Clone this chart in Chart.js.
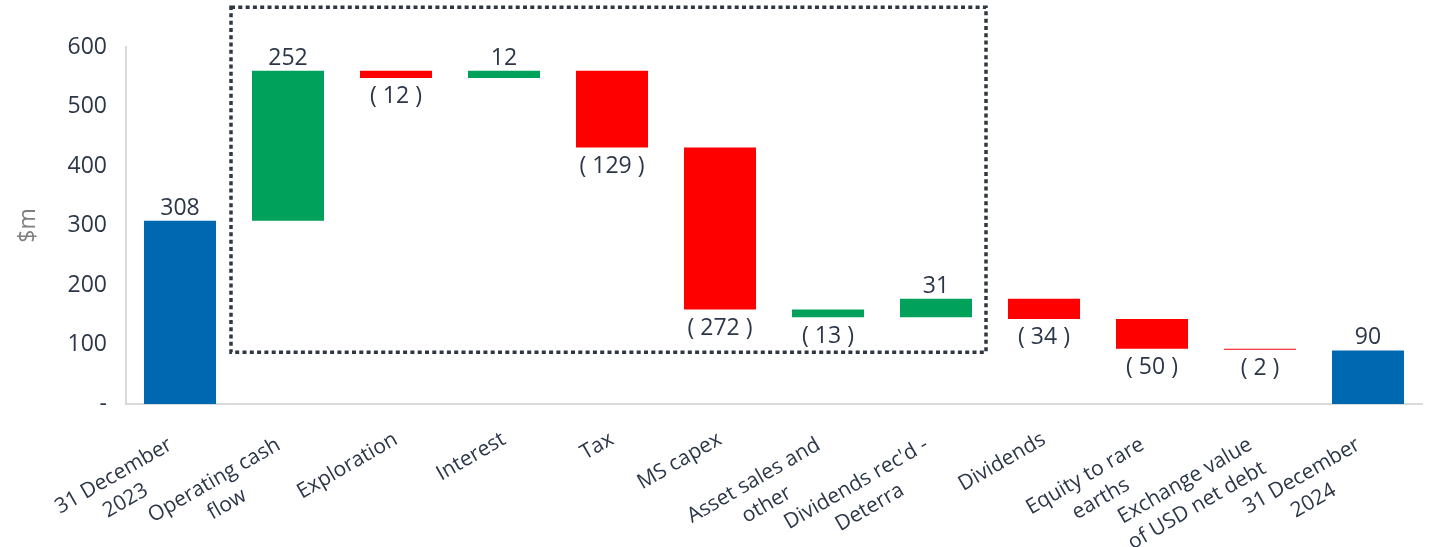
<!DOCTYPE html>
<html>
<head>
<meta charset="utf-8">
<script src="https://cdn.jsdelivr.net/npm/chart.js@4.4.1/dist/chart.umd.min.js"></script>
<style>
	html, body { margin: 0; padding: 0; background: #fff; }
	#wrap { width: 1430px; height: 547px; position: relative; }
</style>
</head>
<body>
<div id="wrap"><canvas id="myChart"></canvas></div>
<script>
// categories (multi-line where the chart wraps them)
var categories = [
	["31 December", "2023"],
	["Operating cash", "flow"],
	"Exploration",
	"Interest",
	"Tax",
	"MS capex",
	["Asset sales and", "other"],
	["Dividends rec'd -", "Deterra"],
	"Dividends",
	["Equity to rare", "earths"],
	["Exchange value", "of USD net debt"],
	["31 December", "2024"]
];
// movement of each step, $m (first and last are totals)
var changes = [308, 252, -12, 12, -129, -272, -13, 31, -34, -50, -2, 90];
var isTotal = [true, false, false, false, false, false, false, false, false, false, false, true];
var yTickValues = [0, 100, 200, 300, 400, 500, 600];

var BLUE = "#0067B1", GREEN = "#00A15B", RED = "#FF0000";
var barColors = [BLUE, GREEN, RED, GREEN, RED, RED, GREEN, GREEN, RED, RED, RED, BLUE];
var textColor = "#2B3748";
var FONT = "'Open Sans', 'Noto Sans', sans-serif";

// floating bars [from, to]
var bars = [];
var running = 0;
changes.forEach(function(v, i) {
	if (isTotal[i]) {
		bars.push([0, v]);
		running = v;
	} else {
		bars.push([running, running + v]);
		running += v;
	}
});

// pad lines so wrapped labels look centred like excel does it
// (chart.js right-aligns rotated text)
var mctx = document.createElement("canvas").getContext("2d");
mctx.font = "21px " + FONT;
function centreLines(lbl) {
	if (!Array.isArray(lbl)) return lbl;
	var widths = lbl.map(function(s) { return mctx.measureText(s).width; });
	var max = Math.max.apply(null, widths);
	var sp = mctx.measureText(" ").width;
	return lbl.map(function(s, i) {
		var n = Math.round((max - widths[i]) / 2 / sp) + 2;
		return s + " ".repeat(n);
	});
}

var fmt = function(v) {
	return v < 0 ? "( " + Math.abs(v) + " )" : String(v);
};

var valueLabels = {
	id: "valueLabels",
	afterDatasetsDraw: function(chart) {
		var ctx = chart.ctx;
		var meta = chart.getDatasetMeta(0);
		ctx.save();
		ctx.font = "23px " + FONT;
		ctx.fillStyle = textColor;
		ctx.textAlign = "center";
		meta.data.forEach(function(bar, i) {
			var v = changes[i];
			var top = Math.min(bar.y, bar.base);
			var bottom = Math.max(bar.y, bar.base);
			if (v >= 0) {
				ctx.textBaseline = "alphabetic";
				ctx.fillText(fmt(v), bar.x, top - 6);
			} else {
				ctx.textBaseline = "middle";
				ctx.fillText(fmt(v), bar.x, bottom + 19);
			}
		});
		ctx.restore();
	}
};

// dotted box round the operating items
var dottedBox = {
	id: "dottedBox",
	afterDraw: function(chart) {
		var x = chart.scales.x, y = chart.scales.y;
		var half = (x.getPixelForValue(1) - x.getPixelForValue(0)) / 2;
		var left = x.getPixelForValue(1) - half - 3;
		var right = x.getPixelForValue(7) + half - 4;
		var top = y.getPixelForValue(667);
		var bottom = y.getPixelForValue(87);
		var ctx = chart.ctx;
		ctx.save();
		ctx.strokeStyle = "#2F3742";
		ctx.lineWidth = 3.5;
		ctx.setLineDash([4, 3.3]);
		ctx.strokeRect(left, top, right - left, bottom - top);
		ctx.restore();
	}
};

var ctx = document.getElementById("myChart").getContext("2d");
var myChart = new Chart(ctx, {
	type: "bar",
	data: {
		labels: categories.map(centreLines),
		datasets: [{
			data: bars,
			backgroundColor: barColors,
			borderWidth: 0,
			categoryPercentage: 1,
			barPercentage: 0.667
		}]
	},
	options: {
		responsive: true,
		maintainAspectRatio: false,
		animation: false,
		layout: { padding: { top: 47, right: 8, left: 0, bottom: 0 } },
		plugins: {
			legend: { display: false },
			tooltip: { enabled: false }
		},
		scales: {
			x: {
				grid: { display: false, drawTicks: false },
				border: { display: true, color: "#D9D9D9", width: 2 },
				ticks: {
					autoSkip: false,
					maxRotation: 30,
					minRotation: 30,
					padding: 22,
					color: textColor,
					font: { family: FONT, size: 21, lineHeight: 1.3 }
				},
				afterFit: function(scale) { scale.height = 143; }
			},
			y: {
				min: 0,
				max: 600,
				grid: { display: false, drawTicks: false },
				border: { display: true, color: "#D9D9D9", width: 2 },
				afterBuildTicks: function(scale) {
					scale.ticks = yTickValues.map(function(v) { return { value: v }; });
				},
				ticks: {
					padding: 19,
					color: textColor,
					font: { family: FONT, size: 23 },
					callback: function(v) { return v === 0 ? "-" : v; }
				},
				title: {
					display: true,
					text: "$m",
					color: "#7F7F7F",
					padding: { top: 15, bottom: 0 },
					font: { family: FONT, size: 23 }
				},
				afterFit: function(scale) { scale.width = 126; }
			}
		}
	},
	plugins: [valueLabels, dottedBox]
});
</script>
</body>
</html>
